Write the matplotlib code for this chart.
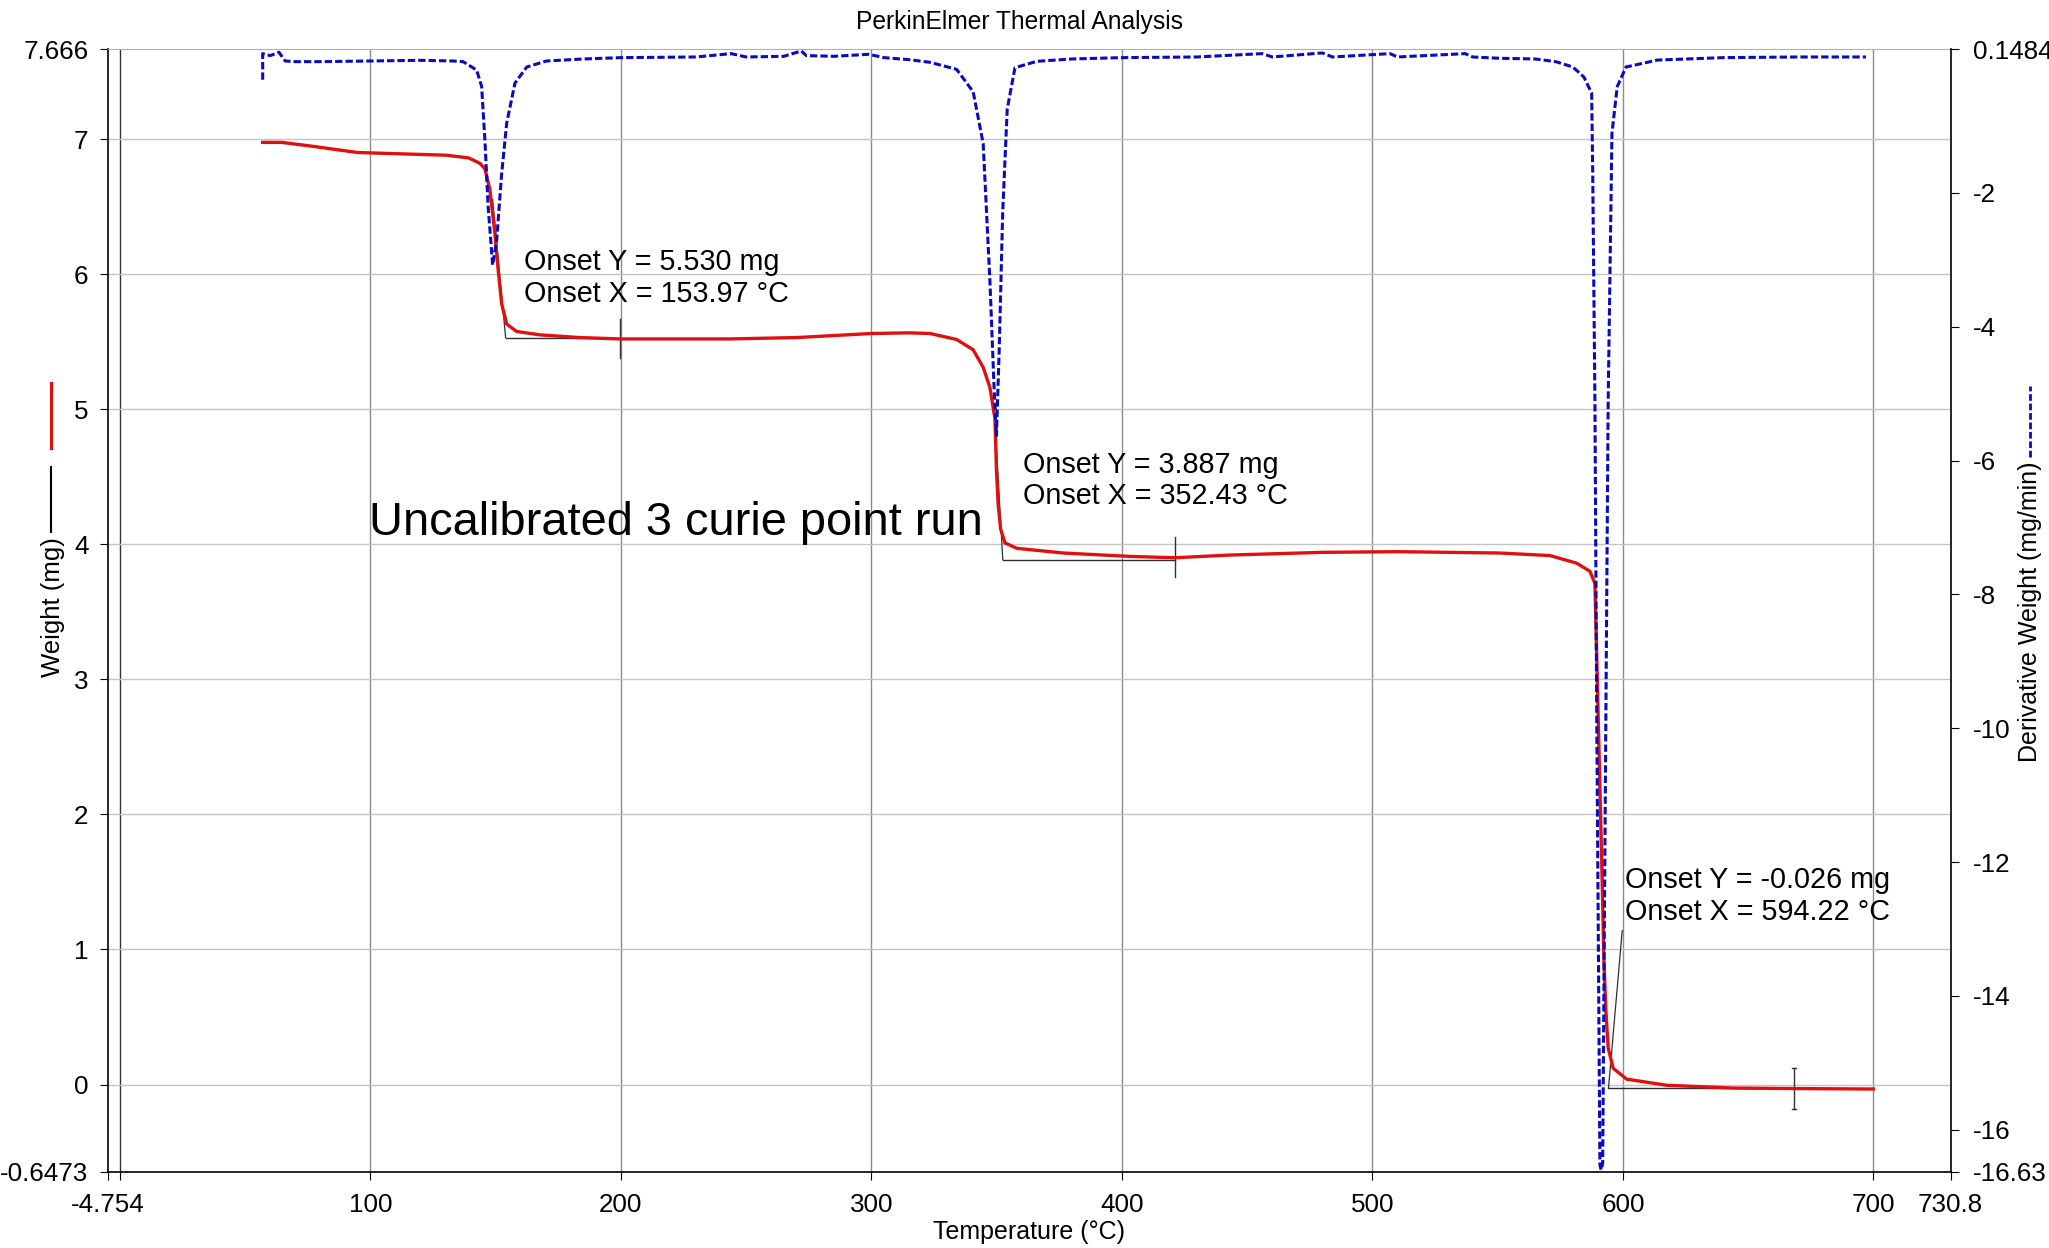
import matplotlib
matplotlib.use("Agg")
import matplotlib.pyplot as plt
from matplotlib.lines import Line2D

plt.rcParams['font.family'] = ['Liberation Sans', 'DejaVu Sans']
plt.rcParams['axes.unicode_minus'] = False

# Weight curve (red)
temp_w = [57.0, 64.6, 77.0, 94.8, 112.6, 130.3, 139.2, 143.7, 145.7, 147.7,
          149.7, 151.0, 152.4, 154.4, 158.4, 167.7, 183.6, 199.6, 243.5, 270,
          300, 315, 323.4, 334.0, 340.6, 344.6, 347.3, 349.3, 349.9, 350.6,
          351.6, 353.3, 358.0, 376.6, 403.2, 421.2, 443.1, 480, 510, 550.9,
          570.9, 581.5, 586.8, 588.8, 589.5, 590.5, 591.5, 592.4, 593.2, 594.1,
          596.1, 601.5, 617.4, 644, 670.7, 700]
weight = [6.975, 6.975, 6.946, 6.90, 6.89, 6.88, 6.86, 6.82, 6.78, 6.625,
          6.30, 6.03, 5.78, 5.63, 5.575, 5.55, 5.53, 5.52, 5.52, 5.53,
          5.56, 5.565, 5.56, 5.516, 5.44, 5.31, 5.16, 4.93, 4.55, 4.29,
          4.11, 4.01, 3.97, 3.935, 3.91, 3.90, 3.92, 3.94, 3.945, 3.935,
          3.916, 3.86, 3.80, 3.71, 3.18, 2.42, 1.67, 0.91, 0.54, 0.27,
          0.12, 0.04, -0.005, -0.026, -0.03, -0.033]

# Derivative weight curve (blue dashed)
temp_d = [57.0, 57.0, 60, 63.5, 66, 70, 80, 100, 120, 133,
          137, 142.4, 144.4, 145.7, 147.0, 148.8, 150.4, 152.4, 154.4, 157.7,
          162.4, 170.3, 185, 200, 230, 244, 250, 265, 272, 274,
          285, 299, 305, 315, 323.4, 334.0, 340.6, 344.6, 347.3, 348.9,
          349.9, 351.0, 352.4, 354.2, 357.3, 366.0, 380, 400, 430, 456,
          460, 480, 484, 507, 510, 537, 540, 551, 565, 573.2,
          580, 584.4, 587.5, 587.9, 588.8, 589.5, 590.8, 591.3, 591.9, 593.2,
          594.1, 595.6, 597.7, 601.2, 613.8, 640, 670, 697]
deriv = [-0.31, 0.08, 0.05, 0.10, -0.03, -0.04, -0.04, -0.03, -0.02, -0.03,
         -0.04, -0.165, -0.41, -1.21, -2.21, -3.08, -2.71, -1.71, -0.96, -0.36,
         -0.12, -0.03, 0.0, 0.02, 0.03, 0.08, 0.03, 0.04, 0.12, 0.05,
         0.04, 0.07, 0.02, -0.01, -0.05, -0.155, -0.49, -1.26, -3.32, -4.86,
         -5.63, -4.35, -2.29, -0.75, -0.13, -0.035, 0.0, 0.02, 0.03, 0.08,
         0.03, 0.09, 0.03, 0.08, 0.03, 0.08, 0.03, 0.01, 0.0, -0.04,
         -0.12, -0.27, -0.51, -1.61, -5.09, -9.66, -16.53, -16.6, -16.5, -9.66,
         -5.09, -1.11, -0.415, -0.12, -0.016, 0.02, 0.03, 0.03]

# Onset constructions
onset_x = [153.97, 352.43, 594.22]
onset_y = [5.530, 3.887, -0.026]
tangent_top_x = [148.8, 349.7, 599.7]
tangent_top_y = [6.55, 4.78, 1.14]
marker_x = [199.6, 421.2, 668.3]
marker_lo = [5.38, 3.76, -0.18]
marker_hi = [5.67, 4.05, 0.12]
onset_text_pos = [(161.3, 5.97), (360.5, 4.47), (601.0, 1.395)]

xlim = (-4.754, 730.8)
ylim_w = (-0.6473, 7.666)
ylim_d = (-16.63, 0.1484)
xticks = [-4.754, 0, 100, 200, 300, 400, 500, 600, 700, 730.8]
xticklabels = ["-4.754", "", "100", "200", "300", "400", "500", "600", "700", "730.8"]
yticks_w = [7.666, 7, 6, 5, 4, 3, 2, 1, 0, -0.6473]
yticklabels_w = ["7.666", "7", "6", "5", "4", "3", "2", "1", "0", "-0.6473"]
yticks_d = [0.1484, -2, -4, -6, -8, -10, -12, -14, -16, -16.63]
yticklabels_d = ["0.1484", "-2", "-4", "-6", "-8", "-10", "-12", "-14", "-16", "-16.63"]

red = "#e01010"
blue = "#0a0ac0"

fig = plt.figure(figsize=(20.49, 12.48), dpi=100)
ax = fig.add_axes([0.0527, 0.0609, 0.8993, 0.8998])
ax2 = ax.twinx()

ax.set_xlim(xlim)
ax.set_ylim(ylim_w)
ax2.set_ylim(ylim_d)

# grid
for gx in xticks[1:-1]:
    ax.axvline(gx, color="#8c8c8c", lw=1.0, zorder=0)
ax.get_lines()[0].set_color("#333333")
for gy in yticks_w[1:-1]:
    ax.axhline(gy, color="#c4c4c4", lw=1.0, zorder=0)

# weight curve
ax.plot(temp_w, weight, color=red, lw=2.4, zorder=3)

# onset construction lines
for i in range(3):
    ax.plot([tangent_top_x[i], onset_x[i]], [tangent_top_y[i], onset_y[i]],
            color="#303030", lw=0.9, zorder=2)
    ax.plot([onset_x[i], marker_x[i]], [onset_y[i], onset_y[i]],
            color="#303030", lw=1.0, zorder=2)
    ax.plot([marker_x[i], marker_x[i]], [marker_lo[i], marker_hi[i]],
            color="#303030", lw=1.0, zorder=2)
ax.plot([marker_x[2] - 0.8, marker_x[2] + 0.8], [marker_lo[2], marker_lo[2]], color="#303030", lw=1.0)
ax.plot([marker_x[2] - 0.8, marker_x[2] + 0.8], [marker_hi[2], marker_hi[2]], color="#303030", lw=1.0)

for i in range(3):
    tx, ty = onset_text_pos[i]
    ax.text(tx, ty, "Onset Y = %.3f mg\nOnset X = %.2f \u00b0C" % (onset_y[i], onset_x[i]),
            fontsize=20.7, ha="left", va="center", linespacing=1.15, zorder=4)

ax.text(222, 4.16, "Uncalibrated 3 curie point run", fontsize=33.8,
        ha="center", va="center", zorder=4)

# derivative curve
ax2.plot(temp_d, deriv, color=blue, lw=2.2, dashes=(2.4, 1.0), zorder=3)

# ticks & spines
ax.set_xticks(xticks)
ax.set_xticklabels(xticklabels)
ax.set_yticks(yticks_w)
ax.set_yticklabels(yticklabels_w)
ax2.set_yticks(yticks_d)
ax2.set_yticklabels(yticklabels_d)
ax.tick_params(axis="both", direction="out", length=6, width=0.8, labelsize=18.7)
ax.tick_params(axis="x", pad=9)
ax.tick_params(axis="y", pad=8)
ax2.tick_params(axis="y", direction="out", length=6, width=0.8, labelsize=18.7, pad=10)

ax.spines["top"].set_color("#b0b0b0")
for s in ["left", "bottom"]:
    ax.spines[s].set_color("black")
    ax.spines[s].set_linewidth(1.2)
ax.spines["right"].set_visible(False)
ax2.spines["top"].set_visible(False)
ax2.spines["left"].set_visible(False)
ax2.spines["bottom"].set_visible(False)
ax2.spines["right"].set_linewidth(1.2)

# titles and axis labels
fig.text(0.4978, 0.9824, "PerkinElmer Thermal Analysis", fontsize=17.7, ha="center", va="center")
fig.text(0.5022, 0.0128, "Temperature (\u00b0C)", fontsize=18, ha="center", va="center")
fig.text(0.0259, 0.5136, "Weight (mg)", fontsize=18.5, rotation=90, ha="center", va="center")
fig.text(0.9907, 0.5096, "Derivative Weight (mg/min)", fontsize=18, rotation=90,
         ha="center", va="center")

# label swatches
fig.add_artist(Line2D([0.0247, 0.0247], [0.6410, 0.6931], color=red, lw=2.3))
fig.add_artist(Line2D([0.0247, 0.0247], [0.5737, 0.6258], color="black", lw=1.5))
fig.add_artist(Line2D([0.9907, 0.9907], [0.6337, 0.6911], color=blue, lw=2.0, dashes=(2.4, 1.0)))

fig.savefig("out.png", dpi=100)
